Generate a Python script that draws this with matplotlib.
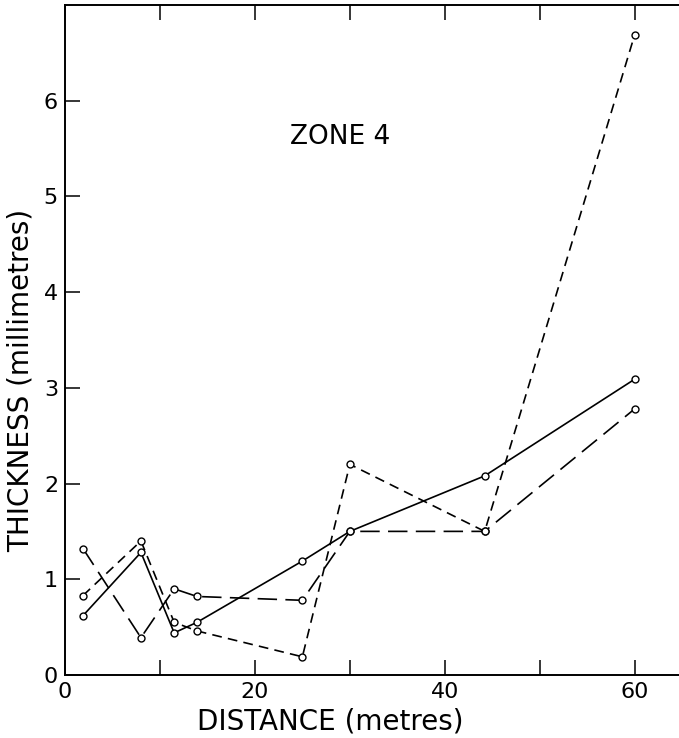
import matplotlib
matplotlib.use("Agg")
import matplotlib.pyplot as plt

# Fonte larga, parecida com o original
plt.rcParams["font.family"] = ["DejaVu Sans"]
plt.rcParams["lines.scale_dashes"] = False

# Dados (distância em metros, espessura em mm)
distancia = [1.9, 8, 11.5, 13.9, 25, 30, 44.2, 60]
espessura_continua = [0.62, 1.28, 0.44, 0.55, 1.19, 1.50, 2.08, 3.09]
espessura_tracejada = [0.83, 1.40, 0.55, 0.46, 0.19, 2.20, 1.50, 6.69]
espessura_traco_longo = [1.32, 0.39, 0.90, 0.82, 0.78, 1.50, 1.50, 2.78]

ticks_x = [0, 10, 20, 30, 40, 50, 60]
rotulos_x = ["0", "", "20", "", "40", "", "60"]
ticks_y = [0, 1, 2, 3, 4, 5, 6]

fig = plt.figure(figsize=(6.79, 7.38), dpi=100)
# o eixo direito fica fora da figura, como no original
ax = fig.add_axes([0.0957, 0.0854, 0.937, 0.908])

estilo_marcador = dict(marker="o", markersize=5, markerfacecolor="white",
                       markeredgecolor="black", markeredgewidth=1.0,
                       color="black", linewidth=1.2)

ax.plot(distancia, espessura_continua, linestyle="-", **estilo_marcador)
ax.plot(distancia, espessura_tracejada, linestyle=(0, (7, 4.5)), **estilo_marcador)
ax.plot(distancia, espessura_traco_longo, linestyle=(0, (14, 6)), **estilo_marcador)

ax.set_xlim(0, 67)
ax.set_ylim(0, 7)

ax.set_xticks(ticks_x)
ax.set_xticklabels(rotulos_x)
ax.set_yticks(ticks_y)

ax.tick_params(direction="in", length=11, width=1.1, labelsize=16,
               top=True, right=True, pad=5)

for lado in ax.spines.values():
    lado.set_linewidth(1.4)

ax.set_xlabel("DISTANCE (metres)", fontsize=20)
ax.set_ylabel("THICKNESS (millimetres)", fontsize=20)
ax.xaxis.set_label_coords(0.417, -0.049)
ax.yaxis.set_label_coords(-0.047, 0.44)

ax.text(29, 5.62, "ZONE 4", fontsize=19, ha="center", va="center")

fig.savefig("out.png", dpi=100)
